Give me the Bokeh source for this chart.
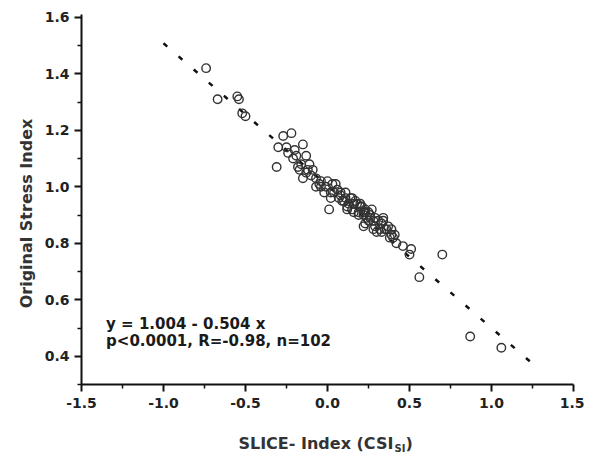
import math
from bokeh.plotting import figure
from bokeh.layouts import column, row
from bokeh.models import Range1d, FixedTicker, PrintfTickFormatter
from bokeh.core.properties import value
from bokeh.embed import file_html
from bokeh.resources import INLINE

# ---- data ----
slice_index = [
    -0.74, -0.67, -0.55, -0.54, -0.52, -0.50, -0.27, -0.22, -0.30, -0.25,
    -0.24, -0.15, -0.31, -0.21, -0.16, -0.13, -0.12, -0.13, -0.15, -0.07,
    -0.04, -0.04, 0.03, 0.02, 0.01, 0.04, 0.08, 0.09, 0.14, 0.16,
    0.12, 0.20, 0.19, 0.23, 0.22, 0.26, 0.31, 0.22, 0.33, 0.28,
    0.37, 0.23, 0.26, 0.34, 0.29, 0.33, 0.39, 0.40, 0.42, 0.46,
    0.51, 0.50, 0.70, 0.56, 0.87, 1.06, -0.10, -0.05, -0.01, 0.06,
    0.07, 0.11, 0.13, 0.17, 0.15, 0.20, 0.22, 0.25, 0.28, 0.24,
    0.35, 0.36, 0.38, -0.19, -0.18, -0.09, 0.00, 0.05, 0.11, 0.18,
    0.21, 0.25, 0.29, 0.32, 0.39, -0.02, 0.08, 0.15, 0.12, 0.19,
    0.27, 0.34, 0.41, -0.17, -0.11, -0.07, 0.02, 0.16, 0.23, 0.30,
    -0.20, 0.10,
]
stress_index = [
    1.42, 1.31, 1.32, 1.31, 1.26, 1.25, 1.18, 1.19, 1.14, 1.14,
    1.12, 1.15, 1.07, 1.10, 1.08, 1.11, 1.06, 1.05, 1.03, 1.03,
    1.02, 1.00, 1.01, 0.98, 0.92, 0.98, 0.97, 0.95, 0.96, 0.94,
    0.93, 0.93, 0.91, 0.92, 0.90, 0.89, 0.88, 0.86, 0.87, 0.85,
    0.86, 0.91, 0.90, 0.88, 0.86, 0.84, 0.83, 0.82, 0.80, 0.79,
    0.78, 0.76, 0.76, 0.68, 0.47, 0.43, 1.04, 1.01, 1.00, 0.99,
    0.96, 0.96, 0.94, 0.95, 0.92, 0.94, 0.91, 0.91, 0.88, 0.89,
    0.85, 0.85, 0.82, 1.11, 1.07, 1.06, 1.02, 1.01, 0.98, 0.94,
    0.93, 0.88, 0.89, 0.85, 0.85, 0.98, 0.98, 0.96, 0.92, 0.90,
    0.92, 0.89, 0.83, 1.06, 1.08, 1.00, 0.96, 0.91, 0.87, 0.84,
    1.13, 0.95,
]

fit_intercept = 1.004
fit_slope = -0.504
fit_x = [-1.0, 1.3]
fit_y = [fit_intercept + fit_slope * v for v in fit_x]

x_ticks = [-1.5, -1.0, -0.5, 0.0, 0.5, 1.0, 1.5]
x_minor = [-1.25, -0.75, -0.25, 0.25, 0.75, 1.25]
y_ticks = [0.4, 0.6, 0.8, 1.0, 1.2, 1.4, 1.6]
y_minor = [0.3, 0.5, 0.7, 0.9, 1.1, 1.3, 1.5]

eq_lines = ["y = 1.004 - 0.504 x", "p<0.0001, R=-0.98, n=102"]
eq_x = [-1.35, -1.35]
eq_y = [0.514, 0.454]

y_title = "Original Stress Index"
x_title_parts = ["SLICE- Index (CSI", "SI", ")"]
x_title_pos = [-0.543, 0.409, 0.476]   # left edges, in x-data units

FONT = "DejaVu Sans"
STRIP_W = 40
TOTAL_H = 455
X_RANGE = (-1.5, 1.5)

# ---- main plot ----
p = figure(
    frame_width=492, frame_height=370,
    x_range=Range1d(*X_RANGE), y_range=Range1d(0.3, 1.61),
    output_backend="svg", toolbar_location=None,
    min_border_left=81 - STRIP_W, min_border_right=11,
    min_border_top=14, min_border_bottom=30,
    background_fill_color="white", border_fill_color="white",
)
p.outline_line_color = None
p.xgrid.visible = False
p.ygrid.visible = False

for ax in (p.xaxis[0], p.yaxis[0]):
    ax.axis_line_width = 2
    ax.axis_line_color = "#111111"
    ax.major_tick_line_width = 2
    ax.minor_tick_line_width = 1.5
    ax.major_tick_line_color = "#111111"
    ax.minor_tick_line_color = "#111111"
    ax.major_tick_out = 7
    ax.major_tick_in = 0
    ax.minor_tick_out = 4
    ax.minor_tick_in = 0
    ax.major_label_text_font = FONT
    ax.major_label_text_font_style = "bold"
    ax.major_label_text_font_size = "14px"
    ax.major_label_text_color = "#222222"
    ax.formatter = PrintfTickFormatter(format="%.1f")

p.xaxis[0].ticker = FixedTicker(ticks=x_ticks, minor_ticks=x_minor)
p.yaxis[0].ticker = FixedTicker(ticks=y_ticks, minor_ticks=y_minor)
p.xaxis[0].major_label_standoff = 6
p.yaxis[0].major_label_standoff = 5

# regression line
p.line(fit_x, fit_y, line_color="#111111", line_width=2.5, line_dash="5 15")

# data points
p.scatter(slice_index, stress_index, marker="circle", size=8.5,
          fill_color=None, line_color="#333333", line_width=1.4)

# equation text
p.text(eq_x, eq_y, text=eq_lines, text_font=value(FONT),
       text_font_style="bold", text_font_size="15px",
       text_color="#1a1a1a", text_baseline="middle", text_align="left")

main_h = 14 + 370 + 30
strip_h = TOTAL_H - main_h

# ---- x-axis title (with subscript) strip, frame aligned with the plot ----
t = figure(
    frame_width=492, frame_height=strip_h,
    x_range=Range1d(*X_RANGE), y_range=Range1d(0, strip_h),
    x_axis_type=None, y_axis_type=None,
    output_backend="svg", toolbar_location=None,
    min_border_left=81 - STRIP_W, min_border_right=11,
    min_border_top=0, min_border_bottom=0,
    background_fill_color="white", border_fill_color="white",
)
t.outline_line_color = None
t.text([x_title_pos[0]], [12], text=[x_title_parts[0]], text_font=value(FONT),
       text_font_style="bold", text_font_size="16px", text_color="#333333",
       text_align="left", text_baseline="middle")
t.text([x_title_pos[1]], [7], text=[x_title_parts[1]], text_font=value(FONT),
       text_font_style="bold", text_font_size="10px", text_color="#333333",
       text_align="left", text_baseline="middle")
t.text([x_title_pos[2]], [12], text=[x_title_parts[2]], text_font=value(FONT),
       text_font_style="bold", text_font_size="16px", text_color="#333333",
       text_align="left", text_baseline="middle")

# ---- y-axis title strip ----
ys = figure(
    frame_width=STRIP_W, frame_height=TOTAL_H,
    x_range=Range1d(0, STRIP_W), y_range=Range1d(0, TOTAL_H),
    x_axis_type=None, y_axis_type=None,
    output_backend="svg", toolbar_location=None,
    min_border=0, min_border_left=0, min_border_right=0,
    min_border_top=0, min_border_bottom=0,
    background_fill_color="white", border_fill_color="white",
)
ys.outline_line_color = None
ys.text([26], [TOTAL_H - 213], text=[y_title], angle=math.pi / 2,
        text_font=value(FONT), text_font_style="bold", text_font_size="16px",
        text_color="#333333", text_align="center", text_baseline="middle")

layout = row(ys, column(p, t, spacing=0), spacing=0)
open("out.html", "w").write(file_html(layout, INLINE))
